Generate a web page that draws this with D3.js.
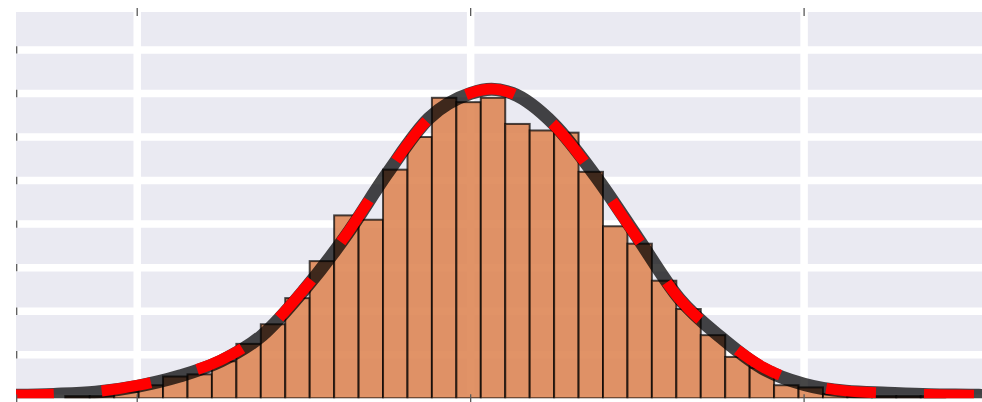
<!DOCTYPE html>
<html>
<head>
<meta charset="utf-8">
<script src="https://cdn.jsdelivr.net/npm/d3@7"></script>
<style>
  html, body { margin: 0; padding: 0; background: #ffffff; }
  svg { display: block; }
</style>
</head>
<body>
<svg id="chart" width="982" height="402"></svg>
<script>
// Histogram of the sample: counts per bin, bins of equal width starting at binStart
const binStart = -2.578;
const binWidth = 0.1466;
const counts = [0, 1, 1, 3, 6, 10, 11, 17, 25, 34, 46, 63, 84, 82, 105, 120, 138, 136, 138,
                126, 123, 122, 104, 79, 71, 54, 41, 29, 19, 14, 6, 5, 2, 1, 1, 1, 1];

// Density curves, scaled to counts, sampled along x
const curveX = [-2.8, -2.5, -2.25, -2.0, -1.75, -1.5, -1.25, -1.0, -0.75, -0.5, -0.25, 0, 0.125,
                0.25, 0.5, 0.75, 1.0, 1.25, 1.5, 1.75, 2.0, 2.25, 2.5, 2.75, 3.0, 3.1];
const fitY = [1.3, 1.8, 2.8, 5.5, 10.1, 17.0, 28.9, 49.6, 74.4, 103.3, 128.6, 140.0, 141.9,
              140.0, 125.8, 101.9, 73.9, 45.9, 28.0, 13.8, 6.4, 3.2, 2.3, 1.6, 1.4, 1.3];
const kdeY = [1.4, 1.9, 3.0, 5.9, 10.6, 17.5, 29.5, 50.0, 74.8, 103.5, 128.5, 140.2, 142.0,
              140.0, 125.5, 101.5, 73.5, 45.8, 28.2, 14.5, 6.8, 3.4, 2.4, 1.7, 1.4, 1.3];

// Axis ticks (no labels are shown)
const xTicks = [-2, 0, 2];
const yTicks = [0, 20, 40, 60, 80, 100, 120, 140, 160];

const svg = d3.select("#chart");
const plot = { left: 16, right: 982, top: 12, bottom: 398.3 };

const x = d3.scaleLinear().domain([-2.727, 3.067]).range([plot.left, plot.right]);
const y = d3.scaleLinear().domain([0, 177.4]).range([plot.bottom, plot.top]);

svg.append("defs").append("clipPath").attr("id", "plotClip")
  .append("rect")
  .attr("x", plot.left).attr("y", plot.top)
  .attr("width", plot.right - plot.left + 10).attr("height", plot.bottom - plot.top);

// Axes background
svg.append("rect")
  .attr("x", plot.left).attr("y", plot.top)
  .attr("width", plot.right - plot.left + 10).attr("height", plot.bottom - plot.top)
  .attr("fill", "#EAEAF2");

const body = svg.append("g").attr("clip-path", "url(#plotClip)");

// White grid
body.append("g").selectAll("line.h").data(yTicks).join("line")
  .attr("x1", plot.left).attr("x2", plot.right + 10)
  .attr("y1", d => y(d)).attr("y2", d => y(d))
  .attr("stroke", "#ffffff").attr("stroke-width", 7.5);
body.append("g").selectAll("line.v").data(xTicks).join("line")
  .attr("y1", plot.top).attr("y2", plot.bottom)
  .attr("x1", d => x(d)).attr("x2", d => x(d))
  .attr("stroke", "#ffffff").attr("stroke-width", 7.5);

// Histogram bars
const bins = counts.map((c, i) => ({ x0: binStart + i * binWidth, x1: binStart + (i + 1) * binWidth, c }));
body.append("g").selectAll("rect").data(bins).join("rect")
  .attr("x", d => x(d.x0))
  .attr("width", d => x(d.x1) - x(d.x0))
  .attr("y", d => y(d.c))
  .attr("height", d => y(0) - y(d.c))
  .attr("fill", "#DD8452").attr("fill-opacity", 0.88)
  .attr("stroke", "#000000").attr("stroke-opacity", 0.7).attr("stroke-width", 2);

const line = vals => d3.line()
  .x((d, i) => x(curveX[i]))
  .y(d => y(d))
  .curve(d3.curveMonotoneX)(vals);

// Fitted density: thick translucent dark line
body.append("path")
  .attr("d", line(fitY))
  .attr("fill", "none")
  .attr("stroke", "#000000").attr("stroke-opacity", 0.72)
  .attr("stroke-width", 13);

// Kernel density estimate: red dashed line
body.append("path")
  .attr("d", line(kdeY))
  .attr("fill", "none")
  .attr("stroke", "#FF0000")
  .attr("stroke-width", 11)
  .attr("stroke-dasharray", "50,48");

// Tick marks
const tickColor = "#5a5a5a";
const ticks = svg.append("g").attr("stroke", tickColor).attr("stroke-width", 1.3);
ticks.selectAll("line.top").data(xTicks).join("line")
  .attr("x1", d => x(d)).attr("x2", d => x(d))
  .attr("y1", plot.top - 4).attr("y2", plot.top + 4);
ticks.selectAll("line.bottom").data(xTicks).join("line")
  .attr("x1", d => x(d)).attr("x2", d => x(d))
  .attr("y1", plot.bottom - 4).attr("y2", plot.bottom + 4);
ticks.selectAll("line.left").data(yTicks).join("line")
  .attr("x1", plot.left + 0.7).attr("x2", plot.left + 0.7)
  .attr("y1", d => y(d) - 3.7).attr("y2", d => y(d) + 3.7);
</script>
</body>
</html>
